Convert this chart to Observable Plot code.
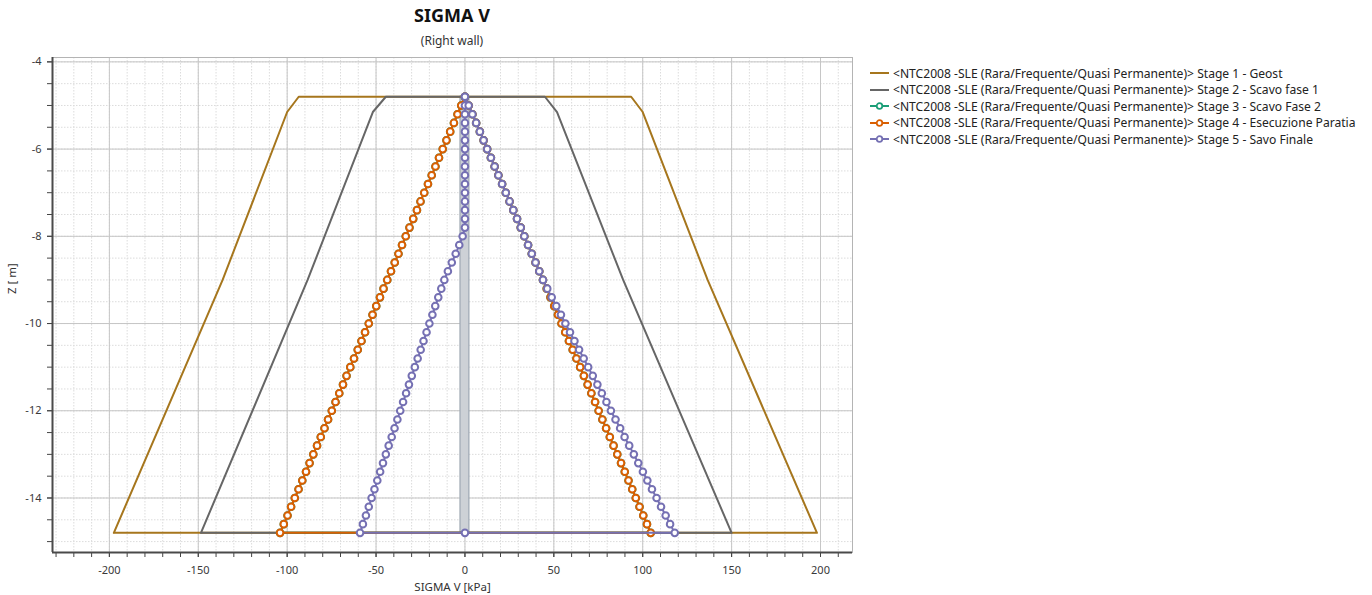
<!DOCTYPE html>
<html>
<head>
<meta charset="utf-8">
<script src="https://cdn.jsdelivr.net/npm/d3@7"></script>
<script src="https://cdn.jsdelivr.net/npm/@observablehq/plot@0.6"></script>
<style>
  body { margin: 0; background: #fff; font-family: "Noto Sans", sans-serif; }
  #wrap { position: relative; width: 1372px; height: 595px; overflow: hidden; }
  #title { position: absolute; left: 52px; width: 800px; top: 3px; text-align: center; font-weight: bold; font-size: 18px; color: #111; }
  #subtitle { position: absolute; left: 52px; width: 800px; top: 32px; text-align: center; font-size: 12px; color: #333; }
  #chart { position: absolute; left: 0; top: 48px; }
  #legend { position: absolute; left: 869px; top: 65px; font-size: 12.1px; color: #222; }
  #legend .row { height: 16.5px; display: flex; align-items: center; white-space: nowrap; }
  #legend svg { margin-right: 3px; }
</style>
</head>
<body>
<div id="wrap">
  <div id="title">SIGMA V</div>
  <div id="subtitle">(Right wall)</div>
  <div id="chart"></div>
  <div id="legend"></div>
</div>
<script>
// Load cases (one closed sigma-V profile per construction stage)
const stageNames = [
  "<NTC2008 -SLE (Rara/Frequente/Quasi Permanente)> Stage 1 - Geost",
  "<NTC2008 -SLE (Rara/Frequente/Quasi Permanente)> Stage 2 - Scavo fase 1",
  "<NTC2008 -SLE (Rara/Frequente/Quasi Permanente)> Stage 3 - Scavo Fase 2",
  "<NTC2008 -SLE (Rara/Frequente/Quasi Permanente)> Stage 4 - Esecuzione Paratia",
  "<NTC2008 -SLE (Rara/Frequente/Quasi Permanente)> Stage 5 - Savo Finale"
];
const stageColors = ["#a6761d", "#666666", "#1b9e77", "#d95f02", "#7570b3"];
const stageMarkers = [false, false, true, true, true];

// Stages 1-2: profile given at the layer boundaries only
const outlineDepths = [-4.8, -5.15, -9.0, -14.8];
const stage1Left  = [-93.5, -100.0, -136.3, -197.5];
const stage1Right = [93.5, 100.0, 136.5, 198.0];
const stage2Left  = [-44.5, -51.8, -88.5, -148.5];
const stage2Right = [45.0, 51.8, 89.0, 150.0];

// Stages 3-5: one value per wall node (0.2 m spacing)
const nodeDepths = [
  -4.8, -5.0, -5.2, -5.4, -5.6, -5.8, -6.0, -6.2, -6.4, -6.6,
  -6.8, -7.0, -7.2, -7.4, -7.6, -7.8, -8.0, -8.2, -8.4, -8.6,
  -8.8, -9.0, -9.2, -9.4, -9.6, -9.8, -10.0, -10.2, -10.4, -10.6,
  -10.8, -11.0, -11.2, -11.4, -11.6, -11.8, -12.0, -12.2, -12.4, -12.6,
  -12.8, -13.0, -13.2, -13.4, -13.6, -13.8, -14.0, -14.2, -14.4, -14.6,
  -14.8
];
const stage4Left = [
  0.0, -2.1, -4.2, -6.2, -8.3, -10.4, -12.5, -14.6, -16.6, -18.7,
  -20.8, -22.9, -25.0, -27.0, -29.1, -31.2, -33.3, -35.4, -37.4, -39.5,
  -41.6, -43.7, -45.8, -47.8, -49.9, -52.0, -54.1, -56.2, -58.2, -60.3,
  -62.4, -64.5, -66.6, -68.6, -70.7, -72.8, -74.9, -77.0, -79.0, -81.1,
  -83.2, -85.3, -87.4, -89.4, -91.5, -93.6, -95.7, -97.8, -99.8, -101.9,
  -104.0
];
const stage4Right = [
  0.0, 2.1, 4.2, 6.3, 8.4, 10.5, 12.5, 14.6, 16.7, 18.8,
  20.9, 23.0, 25.1, 27.2, 29.3, 31.4, 33.4, 35.5, 37.6, 39.7,
  41.8, 43.9, 46.0, 48.1, 50.2, 52.3, 54.3, 56.4, 58.5, 60.6,
  62.7, 64.8, 66.9, 69.0, 71.1, 73.2, 75.2, 77.3, 79.4, 81.5,
  83.6, 85.7, 87.8, 89.9, 92.0, 94.1, 96.1, 98.2, 100.3, 102.4,
  104.5
];
const stage5Left = [
  0, 0, 0, 0, 0, 0, 0, 0, 0, 0,
  0, 0, 0, 0, 0, 0, -1.3, -3.2, -5.2, -7.4,
  -9.6, -11.6, -13.3, -15.0, -16.7, -18.3, -20.0, -21.6, -23.3, -24.9,
  -26.6, -28.2, -29.9, -31.5, -33.1, -34.8, -36.4, -38.0, -39.6, -41.2,
  -42.9, -44.5, -46.1, -47.7, -49.3, -50.9, -52.5, -54.1, -55.7, -57.4,
  -59.0
];
const stage5Right = [
  0.0, 2.1, 4.2, 6.3, 8.4, 10.5, 12.5, 14.6, 16.7, 18.8,
  20.9, 23.0, 25.1, 27.2, 29.3, 31.4, 33.4, 35.5, 37.6, 39.7,
  41.8, 43.9, 46.3, 48.8, 51.4, 54.0, 56.5, 59.1, 61.6, 64.2,
  66.8, 69.3, 71.9, 74.5, 77.0, 79.6, 82.1, 84.7, 87.3, 89.8,
  92.4, 95.0, 97.5, 100.1, 102.6, 105.2, 107.8, 110.3, 112.9, 115.4,
  118.0
];
const stage5ToeValue = 0;

// Wall section drawn in the plane of the profiles
const wall = {left: -2.5, right: 2.5, top: -4.8, toe: -14.8};

// Axes
const xDomain = [-232, 218];
const yDomain = [-15.25, -3.9];
const xTickValues = [-200, -150, -100, -50, 0, 50, 100, 150, 200];
const yTickValues = [-14, -12, -10, -8, -6, -4];
const xMinorStep = 10;
const yMinorStep = 0.5;

function profile(stage, depths, left, right, toeValue) {
  const pts = [];
  for (let i = depths.length - 1; i >= 0; i--) pts.push({stage, x: left[i], z: depths[i]});
  for (let i = 0; i < depths.length; i++) pts.push({stage, x: right[i], z: depths[i]});
  if (toeValue != null) pts.push({stage, x: toeValue, z: depths[depths.length - 1]});
  return pts;
}

const profiles = [
  profile(0, outlineDepths, stage1Left, stage1Right),
  profile(1, outlineDepths, stage2Left, stage2Right),
  profile(2, nodeDepths, stage4Left, stage4Right),
  profile(3, nodeDepths, stage4Left, stage4Right),
  profile(4, nodeDepths, stage5Left, stage5Right, stage5ToeValue)
];

const xMinor = d3.range(Math.ceil(xDomain[0] / xMinorStep) * xMinorStep, xDomain[1], xMinorStep);
const yMinor = d3.range(Math.ceil(yDomain[0] / yMinorStep) * yMinorStep, yDomain[1], yMinorStep);

const seriesMarks = [];
profiles.forEach((pts, s) => {
  seriesMarks.push(Plot.line(pts.concat([pts[0]]), {
    x: "x", y: "z", stroke: stageColors[s], strokeWidth: 2, curve: "linear"
  }));
  if (stageMarkers[s]) {
    seriesMarks.push(Plot.dot(pts, {
      x: "x", y: "z", r: 3.3, stroke: stageColors[s], strokeWidth: 2, fill: "white"
    }));
  }
});

const fmt = d => String(d);

const chart = Plot.plot({
  width: 860,
  height: 547,
  marginLeft: 52,
  marginRight: 8,
  marginTop: 9,
  marginBottom: 43,
  style: {fontFamily: "Noto Sans, sans-serif", fontSize: "11px", color: "#3a3a3a", background: "transparent", overflow: "visible"},
  x: {domain: xDomain},
  y: {domain: yDomain},
  marks: [
    Plot.gridX(xMinor, {stroke: "#dcdcdc", strokeOpacity: 1, strokeDasharray: "1.5,1.5"}),
    Plot.gridY(yMinor, {stroke: "#dcdcdc", strokeOpacity: 1, strokeDasharray: "1.5,1.5"}),
    Plot.gridX(xTickValues, {stroke: "#c6c6c6", strokeOpacity: 1}),
    Plot.gridY(yTickValues, {stroke: "#c6c6c6", strokeOpacity: 1}),
    Plot.frame({stroke: "#b4b4b4"}),
    Plot.rect([wall], {x1: "left", x2: "right", y1: "toe", y2: "top", fill: "#cdd1d6", stroke: "#9ea7b2", strokeWidth: 1.2}),
    ...seriesMarks,
    Plot.axisX(xMinor, {tickSize: 5, tickFormat: () => "", label: null, stroke: "#444"}),
    Plot.axisX(xTickValues, {tickSize: 5, tickPadding: 9, tickFormat: fmt, label: null, stroke: "#444", fill: "#3a3a3a"}),
    Plot.axisY(yMinor, {tickSize: 5, tickFormat: () => "", label: null, stroke: "#444"}),
    Plot.axisY(yTickValues, {tickSize: 5, tickPadding: 6, tickFormat: fmt, label: null, stroke: "#444", fill: "#3a3a3a"}),
    Plot.ruleX([xDomain[0]], {stroke: "#4a4a4a", strokeWidth: 2}),
    Plot.ruleY([yDomain[0]], {stroke: "#4a4a4a", strokeWidth: 2}),
    Plot.text(["SIGMA V [kPa]"], {frameAnchor: "bottom", dy: 38, fill: "#333", fontSize: 11.5}),
    Plot.text(["Z [ m]"], {frameAnchor: "left", dx: -40, dy: -11, rotate: -90, fill: "#333", fontSize: 11.5})
  ]
});
document.getElementById("chart").appendChild(chart);

// Legend
const legend = document.getElementById("legend");
stageNames.forEach((name, s) => {
  const row = document.createElement("div");
  row.className = "row";
  const ns = "http://www.w3.org/2000/svg";
  const sw = document.createElementNS(ns, "svg");
  sw.setAttribute("width", "21");
  sw.setAttribute("height", "10");
  const ln = document.createElementNS(ns, "line");
  ln.setAttribute("x1", "1"); ln.setAttribute("x2", "20");
  ln.setAttribute("y1", "5"); ln.setAttribute("y2", "5");
  ln.setAttribute("stroke", stageColors[s]); ln.setAttribute("stroke-width", "2");
  sw.appendChild(ln);
  if (stageMarkers[s]) {
    const c = document.createElementNS(ns, "circle");
    c.setAttribute("cx", "10.5"); c.setAttribute("cy", "5"); c.setAttribute("r", "2.8");
    c.setAttribute("fill", "white"); c.setAttribute("stroke", stageColors[s]); c.setAttribute("stroke-width", "1.8");
    sw.appendChild(c);
  }
  row.appendChild(sw);
  const t = document.createElement("span");
  t.textContent = name;
  row.appendChild(t);
  legend.appendChild(row);
});
</script>
</body>
</html>
